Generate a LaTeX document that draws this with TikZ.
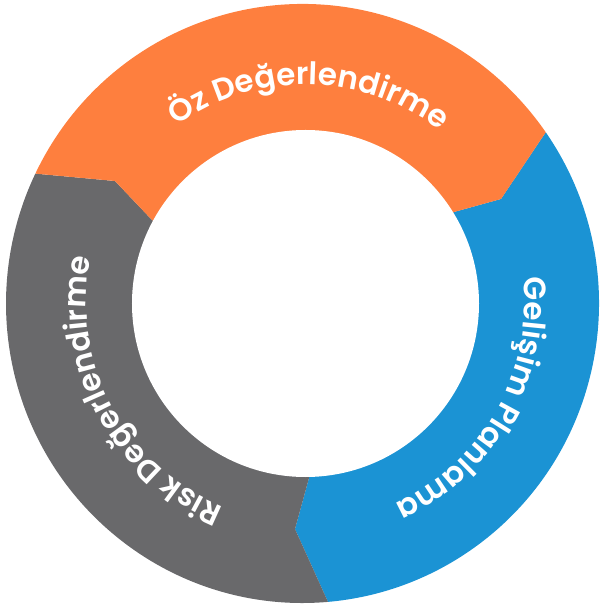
\documentclass[tikz,border=0pt]{standalone}
\usepackage{fontspec}
\setmainfont{Poppins}
\newfontfamily\ringface{Poppins SemiBold}
\usepackage{xcolor}
\usepackage{tikz}
\usetikzlibrary{decorations.text}
\definecolor{ozorange}{HTML}{FE7F3E}
\definecolor{planblue}{HTML}{1B93D4}
\definecolor{riskgray}{HTML}{69696B}
\newcommand{\ringfont}{\ringface\fontsize{31}{37}\selectfont}

\begin{document}
\begin{tikzpicture}[x=1pt, y=1pt,
ringlabel/.style={decorate, decoration={text along path, text align=center, text color=white}},
orangeseg/.style={fill=ozorange},
blueseg/.style={fill=planblue},
grayseg/.style={fill=riskgray},
shadowseg/.style={fill=planblue!70!black, opacity=0.35}]
\useasboundingbox (-305.5,-305.5) rectangle (295.5,303.5);
\coordinate (centre) at (0,0);
\coordinate (ogout) at ([shift={(-3,0)}]154.3:296.5 and 299.5);
\coordinate (ogtip) at (-190.5,122.5);
\coordinate (ogin) at (-153.5,83.5);
\coordinate (obout) at ([shift={(-3,0)}]34.87:296.5 and 299.5);
\coordinate (obtip) at (195.5,104.5);
\coordinate (obin) at (148.5,91.5);
\coordinate (bgout) at ([shift={(-3,0)}]-85.07:296.5 and 299.5);
\coordinate (bgtip) at (-10.5,-225.5);
\coordinate (bgin) at (3.5,-174.5);
\fill[blueseg] (obout) arc[start angle=34.87, end angle=-85.07, x radius=296.5, y radius=299.5]
  -- (bgtip) -- (bgin) -- (centre) -- (obin) -- (obtip) -- cycle;
\begin{scope}
\clip (obout) arc[start angle=34.87, end angle=-85.07, x radius=296.5, y radius=299.5]
  -- (bgtip) -- (bgin) -- (centre) -- (obin) -- (obtip) -- cycle;
\fill[shadowseg, shift={(2.5,-3)}] (obout) -- (obtip) -- (obin) -- (centre) -- cycle;
\end{scope}
\fill[grayseg] (bgout) arc[start angle=274.93, end angle=154.3, x radius=296.5, y radius=299.5]
  -- (ogtip) -- (ogin) -- (centre) -- (bgin) -- (bgtip) -- cycle;
\fill[orangeseg] (ogout) arc[start angle=154.3, end angle=34.87, x radius=296.5, y radius=299.5]
  -- (obtip) -- (obin) -- (centre) -- (ogin) -- (ogtip) -- cycle;
\fill[white] (centre) circle[radius=173.5];
\path[ringlabel, decoration={text={|\ringfont|Öz Değerlendirme}}]
  (149:219) arc[start angle=149, end angle=29, radius=219];
\path[ringlabel, decoration={text={|\ringfont|Gelişim Planlama}}]
  (30.4:219) arc[start angle=30.4, end angle=-89.6, radius=219];
\path[ringlabel, decoration={text={|\ringfont|Risk Değerlendirme}}]
  (268:219) arc[start angle=268, end angle=148, radius=219];
\end{tikzpicture}
\end{document}
